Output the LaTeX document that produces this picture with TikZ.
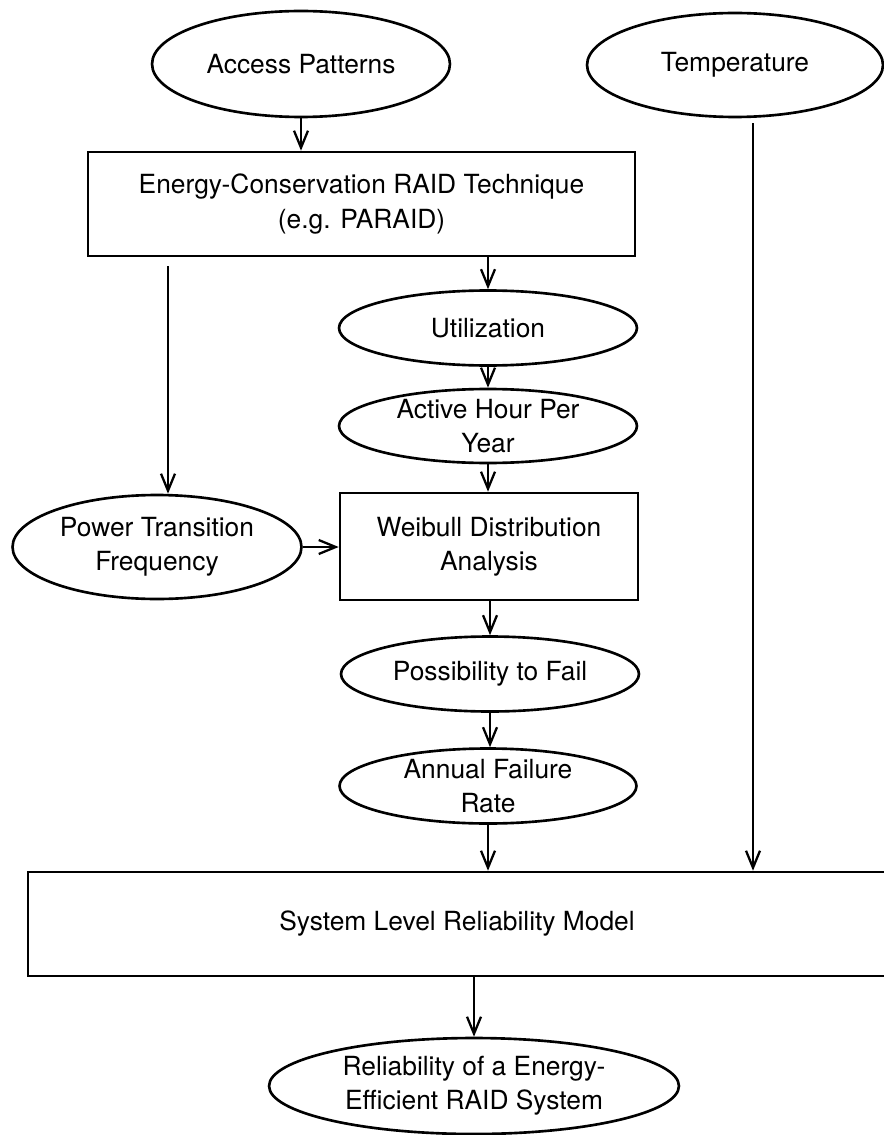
\documentclass[tikz,border=0pt]{standalone}
\usepackage{fontspec}
\setmainfont{TeX Gyre Heros}
\usepackage{tikz}
\usetikzlibrary{shapes.geometric,arrows.meta}
\tikzset{
  flow box/.style 2 args={
    draw,
    line width=1.5pt,
    align=center,
    minimum width={#1cm},
    minimum height={#2cm},
    font=\fontsize{15}{19.5}\selectfont,
  },
  flow oval/.style 2 args={
    ellipse,
    draw,
    line width=1.5pt,
    align=center,
    inner xsep=0pt,
    inner ysep=-4pt,
    minimum width={#1cm},
    minimum height={#2cm},
    font=\fontsize{15}{19.5}\selectfont,
  },
  flow arrow/.style={
    line width=1.3pt,
    -{Straight Barb[length=3.4mm,width=2.8mm,line width=1.3pt]},
  }
}
\begin{document}
\begin{tikzpicture}[x=0.02cm, y=-0.02cm]
    \useasboundingbox (0,0) rectangle (883,1135);

    \node [flow oval={5.96}{2.12}] (access) at (301,64) {Access Patterns};
    \node [flow oval={5.92}{2.08}] (temp) at (735,65) {Temperature};
    \node [flow box={10.94}{2.08}] (energy) at (361.5,204) {Energy-Conservation RAID Technique\\(e.g. PARAID)};
    \node [flow oval={5.96}{1.5}] (util) at (488,328) {Utilization};
    \node [flow oval={5.96}{1.48}] (active) at (488,426) {Active Hour Per\\Year};
    \node [flow box={5.96}{2.14}] (weibull) at (489,546.5) {Weibull Distribution\\Analysis};
    \node [flow oval={5.78}{2.08}] (power) at (157,547) {Power Transition\\Frequency};
    \node [flow oval={5.96}{1.5}] (possib) at (490,674) {Possibility to Fail};
    \node [flow oval={5.94}{1.5}] (annual) at (488,786) {Annual Failure\\Rate};
    \node [flow box={17.16}{2.08}] (system) at (457,924) {System Level Reliability Model};
    \node [flow oval={8.2}{1.92}] (result) at (474,1086) {Reliability of a Energy-\\Efficient RAID System};

    \draw [flow arrow] (access.south) -- (access.south |- energy.north);
    \draw [flow arrow] (energy.south -| util.north) -- (util.north);
    \draw [flow arrow, shorten <=0.18cm] ([xshift=0.22cm]power.north |- energy.south) -- ([xshift=0.22cm]power.north);
    \draw [flow arrow] (util.south) -- (active.north);
    \draw [flow arrow] (active.south) -- (active.south |- weibull.north);
    \draw [flow arrow] (power.east) -- (power.east -| weibull.west);
    \draw [flow arrow] (weibull.south -| possib.north) -- (possib.north);
    \draw [flow arrow] (possib.south) -- (possib.south |- annual.north);
    \draw [flow arrow] (annual.south) -- (annual.south |- system.north);
    \draw [flow arrow, shorten <=0.1cm] ([xshift=0.36cm]temp.south) -- ([xshift=0.36cm]temp.south |- system.north);
    \draw [flow arrow] (system.south -| result.north) -- (result.north);
\end{tikzpicture}
\end{document}
